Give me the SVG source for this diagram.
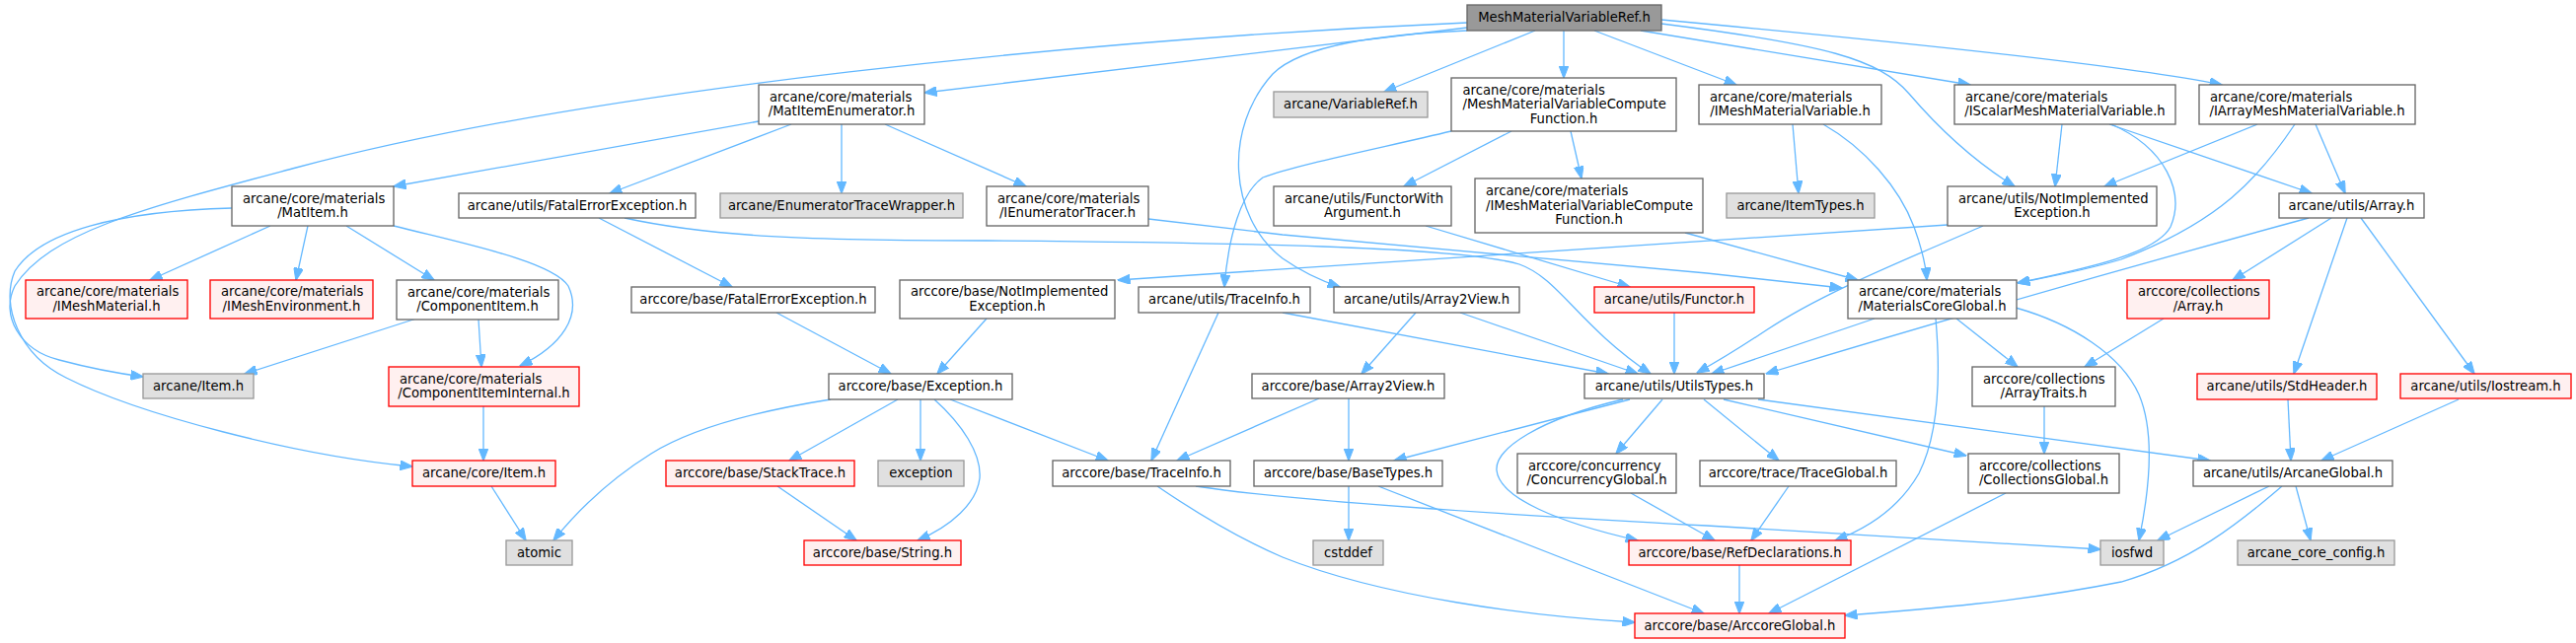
<svg xmlns="http://www.w3.org/2000/svg" width="2611" height="652" viewBox="0 0 2611 652">
<style>
rect{stroke-width:1.33}
.w rect{fill:#ffffff;stroke:#666666}
.g rect{fill:#e0e0e0;stroke:#999999}
.r rect{fill:#fff0f0;stroke:#ff0000}
.t rect{fill:#999999;stroke:#666666}
text{font-family:"DejaVu Sans","Liberation Sans",sans-serif;font-size:13.2px;fill:#000000}
.m{text-anchor:middle}
.s{text-anchor:start}
#edges path{fill:none;stroke:#63b8ff;stroke-width:1.3;marker-end:url(#ah)}
</style>
<defs>
<marker id="ah" markerUnits="userSpaceOnUse" markerWidth="13" markerHeight="10" viewBox="0 0 13 10" refX="12.5" refY="5" orient="auto">
<path d="M0,0 L13,5 L0,10 z" fill="#63b8ff" stroke="#63b8ff" stroke-width="1"/>
</marker>
</defs>
<rect width="2611" height="652" fill="#ffffff"/>
<g id="edges">
<path d="M1487,28 L937,94"/>
<path d="M1556,31 L1403,93"/>
<path d="M1585,31 L1585,79"/>
<path d="M1616,31 L1760,86"/>
<path d="M1663,31 L1997,86"/>
<path d="M1684,20 C1900,40 2150,65 2252,86"/>
<path d="M1684,24 C1850,45 1905,60 1935,95 C1965,130 2000,163 2042,189"/>
<path d="M1487,31 C1400,35 1320,45 1290,75 C1240,130 1245,220 1300,262 C1320,276 1340,285 1358,291"/>
<path d="M1487,23 C1100,40 600,90 300,170 C150,210 50,235 15,290 C0,320 20,355 60,365 C90,373 115,378 145,382"/>
<path d="M769,123 L399,189"/>
<path d="M802,126 L618,196"/>
<path d="M853,126 L853,196"/>
<path d="M897,126 L1040,189"/>
<path d="M274,229 L152,284"/>
<path d="M312,229 L300,284"/>
<path d="M351,229 L440,284"/>
<path d="M399,229 C470,247 560,265 576,290 C590,320 570,350 527,371"/>
<path d="M235,211 C120,214 40,235 15,275 C0,310 20,360 67,383 C140,420 300,462 418,473"/>
<path d="M607,221 L742,291"/>
<path d="M633,221 C720,240 820,244 1000,244 C1250,246 1480,250 1540,268 C1580,282 1600,330 1673,379"/>
<path d="M1164,222 L1300,238 L1730,277 L1867,292"/>
<path d="M1817,126 L1823,196"/>
<path d="M1848,126 C1890,150 1925,190 1940,230 C1948,252 1952,270 1953,284"/>
<path d="M2090,126 L2083,189"/>
<path d="M2138,126 L2343,196"/>
<path d="M2140,126 C2195,150 2215,195 2200,230 C2185,258 2110,273 2045,287"/>
<path d="M2288,126 L2133,189"/>
<path d="M2347,126 L2377,196"/>
<path d="M2326,126 C2290,180 2250,225 2150,263 C2110,275 2080,280 2045,287"/>
<path d="M1532,133 L1423,189"/>
<path d="M1592,133 L1603,181"/>
<path d="M1471,133 C1400,150 1310,168 1280,180 C1258,195 1245,240 1241,291"/>
<path d="M1445,229 L1652,291"/>
<path d="M1708,236 L1883,284"/>
<path d="M1974,228 L1133,284"/>
<path d="M2010,229 C1940,260 1850,295 1790,335 C1760,355 1738,368 1720,378"/>
<path d="M2363,221 L2263,284"/>
<path d="M2379,221 L2325,379"/>
<path d="M2393,221 L2508,379"/>
<path d="M2340,221 Q2050,300 1790,379"/>
<path d="M485,324 L488,372"/>
<path d="M422,323 L248,379"/>
<path d="M787,317 L903,379"/>
<path d="M1000,323 L950,379"/>
<path d="M1235,317 L1167,467"/>
<path d="M1300,317 L1630,379"/>
<path d="M1435,317 L1380,379"/>
<path d="M1480,317 L1660,379"/>
<path d="M1697,317 L1697,379"/>
<path d="M1900,323 L1735,379"/>
<path d="M1962,323 C1967,380 1965,440 1945,480 C1925,515 1895,535 1860,548"/>
<path d="M1983,323 L2045,372"/>
<path d="M2043,312 C2100,328 2150,360 2168,400 C2185,440 2178,500 2168,548"/>
<path d="M2193,323 L2113,372"/>
<path d="M490,412 L490,467"/>
<path d="M842,405 C760,418 700,435 660,460 C620,485 590,512 561,548"/>
<path d="M910,405 L800,467"/>
<path d="M933,405 L933,467"/>
<path d="M947,405 C975,430 995,460 993,485 C990,510 965,533 930,548"/>
<path d="M963,405 L1123,467"/>
<path d="M1367,404 L1367,467"/>
<path d="M1337,404 L1193,467"/>
<path d="M1652,405 L1413,467"/>
<path d="M1645,405 C1560,425 1515,455 1517,477 C1520,505 1580,530 1660,548"/>
<path d="M1685,405 L1638,460"/>
<path d="M1727,405 L1803,467"/>
<path d="M1747,405 L1993,462"/>
<path d="M1782,405 L2240,467"/>
<path d="M2072,412 L2072,460"/>
<path d="M2319,405 L2322,467"/>
<path d="M2492,405 L2353,467"/>
<path d="M498,493 L533,548"/>
<path d="M788,493 L868,548"/>
<path d="M1212,493 C1270,502 1400,515 1730,533 C1900,542 2050,552 2129,557"/>
<path d="M1173,493 C1220,525 1260,548 1300,565 C1400,605 1550,625 1657,631"/>
<path d="M1367,493 L1367,548"/>
<path d="M1397,493 L1727,622"/>
<path d="M1653,500 L1738,548"/>
<path d="M1813,493 L1775,548"/>
<path d="M2033,500 L1793,622"/>
<path d="M1763,573 L1763,622"/>
<path d="M2300,493 L2187,548"/>
<path d="M2313,493 C2270,530 2220,570 2150,590 C2050,610 1950,618 1870,624"/>
<path d="M2327,493 L2342,548"/>
</g>
<g id="n_top" class="t"><rect x="1487" y="5" width="197" height="26"/><text class="m" x="1585.5" y="22.3">MeshMaterialVariableRef.h</text></g>
<g id="n_matitemenum" class="w"><rect x="769" y="86" width="168" height="40"/><text class="s" x="780" y="102.5">arcane/core/materials</text><text class="m" x="853" y="117">/MatItemEnumerator.h</text></g>
<g id="n_variableref" class="g"><rect x="1291" y="93" width="156" height="26"/><text class="m" x="1369" y="110.3">arcane/VariableRef.h</text></g>
<g id="n_mmvcf" class="w"><rect x="1471" y="79" width="228" height="54"/><text class="s" x="1482.5" y="95.5">arcane/core/materials</text><text class="s" x="1482.5" y="110">/MeshMaterialVariableCompute</text><text class="m" x="1585" y="124.5">Function.h</text></g>
<g id="n_immv" class="w"><rect x="1722" y="86" width="185" height="40"/><text class="s" x="1733" y="102.5">arcane/core/materials</text><text class="m" x="1814.5" y="117">/IMeshMaterialVariable.h</text></g>
<g id="n_ismv" class="w"><rect x="1981" y="86" width="224" height="40"/><text class="s" x="1992" y="102.5">arcane/core/materials</text><text class="m" x="2093" y="117">/IScalarMeshMaterialVariable.h</text></g>
<g id="n_iamv" class="w"><rect x="2229" y="86" width="219" height="40"/><text class="s" x="2240" y="102.5">arcane/core/materials</text><text class="m" x="2338.5" y="117">/IArrayMeshMaterialVariable.h</text></g>
<g id="n_matitem" class="w"><rect x="235" y="189" width="164" height="40"/><text class="s" x="246" y="205.5">arcane/core/materials</text><text class="m" x="317" y="220">/MatItem.h</text></g>
<g id="n_fee" class="w"><rect x="465" y="196" width="240" height="25"/><text class="m" x="585" y="212.8">arcane/utils/FatalErrorException.h</text></g>
<g id="n_etw" class="g"><rect x="730" y="196" width="246" height="25"/><text class="m" x="853" y="212.8">arcane/EnumeratorTraceWrapper.h</text></g>
<g id="n_iet" class="w"><rect x="1000" y="189" width="164" height="40"/><text class="s" x="1011" y="205.5">arcane/core/materials</text><text class="m" x="1082" y="220">/IEnumeratorTracer.h</text></g>
<g id="n_fwa" class="w"><rect x="1291" y="189" width="180" height="40"/><text class="s" x="1302" y="205.5">arcane/utils/FunctorWith</text><text class="m" x="1381" y="220">Argument.h</text></g>
<g id="n_immvcf" class="w"><rect x="1495" y="181" width="231" height="55"/><text class="s" x="1506" y="198">arcane/core/materials</text><text class="s" x="1506" y="212.5">/IMeshMaterialVariableCompute</text><text class="m" x="1610.5" y="227">Function.h</text></g>
<g id="n_itemtypes" class="g"><rect x="1750" y="196" width="150" height="25"/><text class="m" x="1825" y="212.8">arcane/ItemTypes.h</text></g>
<g id="n_nie" class="w"><rect x="1974" y="189" width="212" height="40"/><text class="s" x="1985" y="205.5">arcane/utils/NotImplemented</text><text class="m" x="2080" y="220">Exception.h</text></g>
<g id="n_array" class="w"><rect x="2310" y="196" width="147" height="25"/><text class="m" x="2383.5" y="212.8">arcane/utils/Array.h</text></g>
<g id="n_imm" class="r"><rect x="26" y="284" width="164" height="39"/><text class="s" x="37" y="300">arcane/core/materials</text><text class="m" x="108" y="314.5">/IMeshMaterial.h</text></g>
<g id="n_ime" class="r"><rect x="213" y="284" width="165" height="39"/><text class="s" x="224" y="300">arcane/core/materials</text><text class="m" x="295.5" y="314.5">/IMeshEnvironment.h</text></g>
<g id="n_ci" class="w"><rect x="402" y="284" width="164" height="40"/><text class="s" x="413" y="300.5">arcane/core/materials</text><text class="m" x="484" y="315">/ComponentItem.h</text></g>
<g id="n_afee" class="w"><rect x="640" y="291" width="247" height="26"/><text class="m" x="763.5" y="308.3">arccore/base/FatalErrorException.h</text></g>
<g id="n_anie" class="w"><rect x="912" y="284" width="218" height="39"/><text class="s" x="923" y="300">arccore/base/NotImplemented</text><text class="m" x="1021" y="314.5">Exception.h</text></g>
<g id="n_traceinfo" class="w"><rect x="1154" y="291" width="174" height="26"/><text class="m" x="1241" y="308.3">arcane/utils/TraceInfo.h</text></g>
<g id="n_a2v" class="w"><rect x="1352" y="291" width="188" height="26"/><text class="m" x="1446" y="308.3">arcane/utils/Array2View.h</text></g>
<g id="n_functor" class="r"><rect x="1616" y="291" width="162" height="26"/><text class="m" x="1697" y="308.3">arcane/utils/Functor.h</text></g>
<g id="n_mcg" class="w"><rect x="1873" y="284" width="171" height="39"/><text class="s" x="1884" y="300">arcane/core/materials</text><text class="m" x="1958.5" y="314.5">/MaterialsCoreGlobal.h</text></g>
<g id="n_carray" class="r"><rect x="2156" y="284" width="144" height="39"/><text class="s" x="2167" y="300">arccore/collections</text><text class="m" x="2228" y="314.5">/Array.h</text></g>
<g id="n_aitem" class="g"><rect x="145" y="379" width="112" height="25"/><text class="m" x="201" y="395.8">arcane/Item.h</text></g>
<g id="n_cii" class="r"><rect x="394" y="372" width="193" height="40"/><text class="s" x="405" y="388.5">arcane/core/materials</text><text class="m" x="490.5" y="403">/ComponentItemInternal.h</text></g>
<g id="n_exception_h" class="w"><rect x="840" y="379" width="186" height="26"/><text class="m" x="933" y="396.3">arccore/base/Exception.h</text></g>
<g id="n_ba2v" class="w"><rect x="1269" y="379" width="195" height="25"/><text class="m" x="1366.5" y="395.8">arccore/base/Array2View.h</text></g>
<g id="n_utilstypes" class="w"><rect x="1606" y="379" width="182" height="25"/><text class="m" x="1697" y="395.8">arcane/utils/UtilsTypes.h</text></g>
<g id="n_arraytraits" class="w"><rect x="1999" y="372" width="145" height="40"/><text class="s" x="2010" y="388.5">arccore/collections</text><text class="m" x="2071.5" y="403">/ArrayTraits.h</text></g>
<g id="n_stdheader" class="r"><rect x="2227" y="379" width="182" height="26"/><text class="m" x="2318" y="396.3">arcane/utils/StdHeader.h</text></g>
<g id="n_iostream" class="r"><rect x="2433" y="379" width="173" height="25"/><text class="m" x="2519.5" y="395.8">arcane/utils/Iostream.h</text></g>
<g id="n_coreitem" class="r"><rect x="418" y="467" width="145" height="26"/><text class="m" x="490.5" y="484.3">arcane/core/Item.h</text></g>
<g id="n_stacktrace" class="r"><rect x="675" y="467" width="191" height="26"/><text class="m" x="770.5" y="484.3">arccore/base/StackTrace.h</text></g>
<g id="n_exception" class="g"><rect x="890" y="467" width="87" height="26"/><text class="m" x="933.5" y="484.3">exception</text></g>
<g id="n_btraceinfo" class="w"><rect x="1067" y="467" width="180" height="26"/><text class="m" x="1157" y="484.3">arccore/base/TraceInfo.h</text></g>
<g id="n_basetypes" class="w"><rect x="1271" y="467" width="191" height="26"/><text class="m" x="1366.5" y="484.3">arccore/base/BaseTypes.h</text></g>
<g id="n_concurrency" class="w"><rect x="1538" y="460" width="161" height="40"/><text class="s" x="1549" y="476.5">arccore/concurrency</text><text class="m" x="1618.5" y="491">/ConcurrencyGlobal.h</text></g>
<g id="n_traceglobal" class="w"><rect x="1723" y="467" width="199" height="26"/><text class="m" x="1822.5" y="484.3">arccore/trace/TraceGlobal.h</text></g>
<g id="n_collglobal" class="w"><rect x="1995" y="460" width="153" height="40"/><text class="s" x="2006" y="476.5">arccore/collections</text><text class="m" x="2071.5" y="491">/CollectionsGlobal.h</text></g>
<g id="n_arcaneglobal" class="w"><rect x="2223" y="467" width="202" height="26"/><text class="m" x="2324" y="484.3">arcane/utils/ArcaneGlobal.h</text></g>
<g id="n_atomic" class="g"><rect x="513" y="548" width="67" height="25"/><text class="m" x="546.5" y="564.8">atomic</text></g>
<g id="n_string" class="r"><rect x="815" y="548" width="159" height="25"/><text class="m" x="894.5" y="564.8">arccore/base/String.h</text></g>
<g id="n_cstddef" class="g"><rect x="1331" y="548" width="71" height="25"/><text class="m" x="1366.5" y="564.8">cstddef</text></g>
<g id="n_refdecl" class="r"><rect x="1651" y="548" width="225" height="25"/><text class="m" x="1763.5" y="564.8">arccore/base/RefDeclarations.h</text></g>
<g id="n_iosfwd" class="g"><rect x="2129" y="548" width="64" height="25"/><text class="m" x="2161" y="564.8">iosfwd</text></g>
<g id="n_config" class="g"><rect x="2268" y="548" width="159" height="25"/><text class="m" x="2347.5" y="564.8">arcane_core_config.h</text></g>
<g id="n_arccoreglobal" class="r"><rect x="1657" y="622" width="213" height="25"/><text class="m" x="1763.5" y="638.8">arccore/base/ArccoreGlobal.h</text></g>
</svg>
